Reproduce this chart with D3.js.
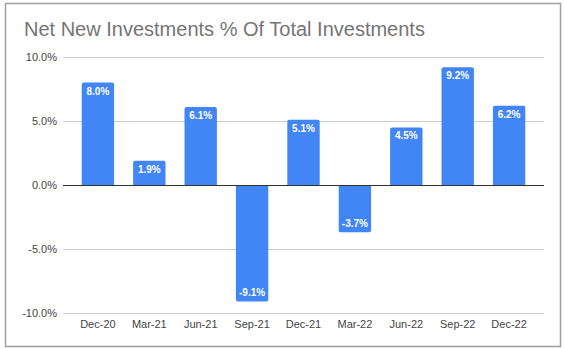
<!DOCTYPE html>
<html><head><meta charset="utf-8">
<script src="https://cdn.jsdelivr.net/npm/d3@7"></script>
<style>html,body{margin:0;padding:0;background:#fff;}svg{display:block;font-family:Arial,"Liberation Sans",sans-serif;}</style>
</head><body>
<script>
const categories = ["Dec-20","Mar-21","Jun-21","Sep-21","Dec-21","Mar-22","Jun-22","Sep-22","Dec-22"];
const values = [8.0, 1.9, 6.1, -9.1, 5.1, -3.7, 4.5, 9.2, 6.2];
const yTicks = [-10, -5, 0, 5, 10];
const title = "Net New Investments % Of Total Investments";

const W = 564, H = 349;
const svg = d3.select("body").append("svg").attr("width", W).attr("height", H);
svg.append("rect").attr("x", 5.5).attr("y", 3.5).attr("width", 555).attr("height", 343)
  .attr("fill", "#fff").attr("stroke", "#9e9e9e").attr("stroke-width", 1.5);

svg.append("text").attr("x", 24).attr("y", 36).attr("font-size", 20).attr("fill", "#757575").text(title);

const x = d3.scaleBand().domain(categories).range([63, 544]).paddingInner(0.37).paddingOuter(0.364);
const y = d3.scaleLinear().domain([-10, 10]).range([313, 57]);

const g = svg.append("g");
g.selectAll("line.grid").data(yTicks.filter(t => t !== 0)).join("line")
  .attr("x1", 63).attr("x2", 544).attr("y1", d => Math.round(y(d)) + 0.5).attr("y2", d => Math.round(y(d)) + 0.5)
  .attr("stroke", "#cccccc").attr("stroke-width", 1);

const yAxis = d3.axisLeft(y).tickValues(yTicks).tickSize(0).tickPadding(6).tickFormat(d => d.toFixed(1) + "%");
const ya = svg.append("g").attr("transform", "translate(63,0)").call(yAxis);
ya.select(".domain").remove();
ya.selectAll("text").attr("font-size", 11).attr("fill", "#444").attr("font-family", "Arial,'Liberation Sans',sans-serif");

function barPath(d) {
  const x0 = x(d.c), w = x.bandwidth();
  const y0 = y(0), y1 = y(d.v), r = 2;
  if (d.v >= 0) {
    return `M${x0},${y0}V${y1 + r}Q${x0},${y1} ${x0 + r},${y1}H${x0 + w - r}Q${x0 + w},${y1} ${x0 + w},${y1 + r}V${y0}Z`;
  } else {
    return `M${x0},${y0}V${y1 - r}Q${x0},${y1} ${x0 + r},${y1}H${x0 + w - r}Q${x0 + w},${y1} ${x0 + w},${y1 - r}V${y0}Z`;
  }
}
const data = categories.map((c, i) => ({c, v: values[i]}));
svg.selectAll("path.bar").data(data).join("path").attr("class", "bar").attr("d", barPath).attr("fill", "#4285f4");

svg.append("line").attr("x1", 63).attr("x2", 544).attr("y1", Math.round(y(0)) + 0.5).attr("y2", Math.round(y(0)) + 0.5)
  .attr("stroke", "#333").attr("stroke-width", 1.2);

svg.selectAll("text.lbl").data(data).join("text").attr("class", "lbl")
  .attr("x", d => x(d.c) + x.bandwidth() / 2)
  .attr("y", d => d.v >= 0 ? y(d.v) + 12 : y(d.v) - 5)
  .attr("text-anchor", "middle").attr("font-size", 10).attr("font-weight", "bold").attr("fill", "#fff")
  .text(d => d.v.toFixed(1) + "%");

const xAxis = d3.axisBottom(x).tickSize(0).tickPadding(0);
const xa = svg.append("g").attr("transform", "translate(0,320)").call(xAxis);
xa.select(".domain").remove();
xa.selectAll("text").attr("font-size", 11).attr("fill", "#444").attr("dy", "0.71em").attr("font-family", "Arial,'Liberation Sans',sans-serif");
</script>
</body></html>
